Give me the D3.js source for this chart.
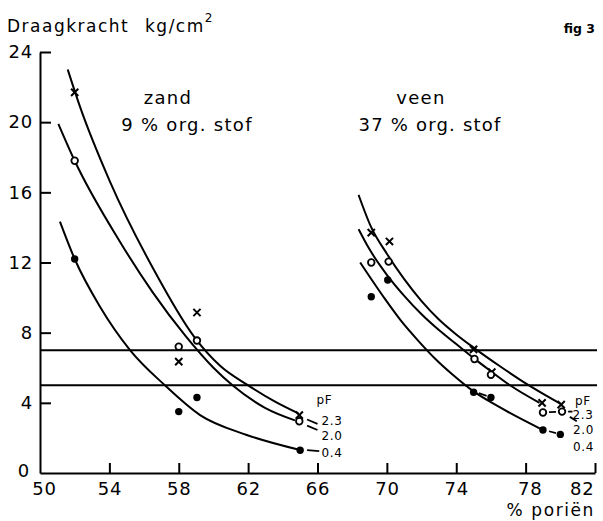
<!DOCTYPE html>
<html><head><meta charset="utf-8">
<script src="https://cdn.jsdelivr.net/npm/d3@7"></script>
<style>
html,body{margin:0;padding:0;background:#fff;}
text{font-family:"DejaVu Sans",sans-serif;fill:#000;}
</style>
</head><body>
<svg id="chart" width="603" height="521"></svg>
<script>
// ---- data ----
const xTicks = [50, 54, 58, 62, 66, 70, 74, 78, 82];
const yTicks = [0, 4, 8, 12, 16, 20, 24];
const refLines = [7, 5];

// measured points, zand (9 % org. stof)
const zandPF23 = [[52, 21.7], [58, 6.35], [59.05, 9.15], [64.95, 3.3]];
const zandPF20 = [[52, 17.8], [58, 7.2], [59.05, 7.55], [64.95, 2.95]];
const zandPF04 = [[52, 12.2], [58, 3.5], [59.05, 4.3], [65, 1.3]];
// measured points, veen (37 % org. stof)
const veenPF23 = [[69.1, 13.7], [70.15, 13.2], [75, 7.05], [76.05, 5.75], [78.95, 4.0], [80.05, 3.9]];
const veenPF20 = [[69.1, 12.0], [70.1, 12.05], [75.05, 6.5], [76.0, 5.6], [79.0, 3.45], [80.1, 3.5]];
const veenPF04 = [[69.1, 10.05], [70.05, 11.0], [75, 4.6], [76.0, 4.3], [79.0, 2.45], [80.0, 2.2]];

// fitted curves as drawn
const zandCurve23 = [[51.6, 23.0], [52.3, 20.9], [54.04, 16.6], [56.5, 11.7], [58.9, 7.75], [60.4, 6.1], [62.0, 5.0], [63.5, 4.1], [64.9, 3.4]];
const zandCurve20 = [[51.06, 19.9], [52.0, 17.8], [54.6, 13.2], [56.5, 10.3], [58.4, 7.8], [60.0, 6.0], [61.1, 5.0], [63.0, 3.7], [64.7, 3.0]];
const zandCurve04 = [[51.15, 14.33], [52, 12.2], [53.46, 9.48], [55.19, 7.01], [57.2, 5.0], [59.23, 3.3], [61.92, 2.17], [65, 1.31]];
const veenCurve23 = [[68.37, 15.85], [69.1, 14.0], [70.0, 12.5], [71.0, 11.05], [72.0, 9.8], [73.0, 8.75], [74.0, 7.9], [75.0, 7.15], [76.5, 6.1], [78.1, 5.05], [80.0, 3.95]];
const veenCurve20 = [[68.37, 13.9], [69.0, 12.75], [70.0, 11.3], [71.0, 10.1], [72.0, 9.05], [73.0, 8.15], [74.0, 7.35], [75.0, 6.55], [76.0, 5.8], [77.1, 5.0], [78.8, 4.0]];
const veenCurve04 = [[68.46, 12.0], [69.8, 10.05], [70.8, 8.7], [71.8, 7.55], [72.8, 6.5], [73.8, 5.6], [75.0, 4.65], [76.5, 3.75], [79.0, 2.45]];

// short leader dashes between marks and labels
const leaders = [
  [[65.4, 3.05], [66.0, 2.8]], [[65.4, 2.7], [66.0, 2.45]], [[65.4, 1.3], [66.1, 1.25]],
  [[75.3, 4.55], [75.75, 4.4]], [[79.35, 3.47], [79.75, 3.48]], [[79.35, 2.38], [79.75, 2.28]],
  [[80.45, 3.5], [80.7, 3.5]], [[80.55, 3.2], [80.95, 2.95]]
];
const pfLabels = ["pF", "2.3", "2.0", "0.4"];

// ---- drawing ----
const svg = d3.select("#chart");
const x = d3.scaleLinear().domain([50, 82]).range([40, 595]);
const y = d3.scaleLinear().domain([0, 24]).range([473, 52]);

// axes
const yAxis = d3.axisLeft(y).tickValues(yTicks).tickSize(-11).tickSizeOuter(0).tickPadding(7);
const xAxis = d3.axisBottom(x).tickValues(xTicks).tickSize(-10).tickSizeOuter(0).tickPadding(9);
const gy = svg.append("g").attr("transform", "translate(40,0)").call(yAxis);
const gx = svg.append("g").attr("transform", "translate(0,473)").call(xAxis);
[gy, gx].forEach(g => {
  g.select(".domain").attr("stroke", "#000").attr("stroke-width", 2);
  g.selectAll(".tick line").attr("stroke", "#000").attr("stroke-width", 2);
  g.selectAll(".tick text").attr("font-family", "DejaVu Sans, sans-serif").attr("font-size", 18)
    .attr("letter-spacing", 0.8).attr("fill", "#000");
});
gx.selectAll(".tick line").filter(d => d === 50).remove();
gy.selectAll(".tick line").filter(d => d === 0).remove();
gx.selectAll(".tick text").filter(d => d === 82).attr("text-anchor", "end").attr("x", -1);
gx.selectAll(".tick text").filter(d => d === 78).attr("x", 4);
gx.selectAll(".tick text").filter(d => d === 50).attr("x", 4);
gy.selectAll(".tick text").filter(d => d === 0).attr("x", -10).attr("dy", "0.2em");

// reference lines
svg.selectAll("line.ref").data(refLines).join("line").attr("class", "ref")
  .attr("x1", x(50)).attr("x2", 597).attr("y1", d => y(d)).attr("y2", d => y(d))
  .attr("stroke", "#000").attr("stroke-width", 2);

// curves
const line = d3.line().x(d => x(d[0])).y(d => y(d[1])).curve(d3.curveMonotoneX);
[zandCurve23, zandCurve20, zandCurve04, veenCurve23, veenCurve20, veenCurve04].forEach(c => {
  svg.append("path").attr("d", line(c)).attr("fill", "none").attr("stroke", "#000").attr("stroke-width", 2);
});

// leaders
svg.selectAll("line.leader").data(leaders).join("line").attr("class", "leader")
  .attr("x1", d => x(d[0][0])).attr("y1", d => y(d[0][1]))
  .attr("x2", d => x(d[1][0])).attr("y2", d => y(d[1][1]))
  .attr("stroke", "#000").attr("stroke-width", 1.8);

// markers
function crosses(data) {
  const g = svg.append("g");
  data.forEach(d => {
    const cx = x(d[0]), cy = y(d[1]), s = 3.6;
    g.append("path").attr("d", `M${cx - s},${cy - s}L${cx + s},${cy + s}M${cx - s},${cy + s}L${cx + s},${cy - s}`)
      .attr("stroke", "#000").attr("stroke-width", 2);
  });
}
function rings(data) {
  svg.append("g").selectAll("circle").data(data).join("circle")
    .attr("cx", d => x(d[0])).attr("cy", d => y(d[1])).attr("r", 3.3)
    .attr("fill", "#fff").attr("stroke", "#000").attr("stroke-width", 1.8);
}
function dots(data) {
  svg.append("g").selectAll("circle").data(data).join("circle")
    .attr("cx", d => x(d[0])).attr("cy", d => y(d[1])).attr("r", 3.7).attr("fill", "#000");
}
crosses(zandPF23); rings(zandPF20); dots(zandPF04);
crosses(veenPF23); rings(veenPF20); dots(veenPF04);

// pF labels
const zandLab = [[316.5, 404], [321.5, 425], [321.5, 439.5], [321.5, 457]];
const veenLab = [[575, 404.5], [572.5, 418.5], [573, 433.5], [573, 450.5]];
[zandLab, veenLab].forEach(pos => {
  svg.append("g").selectAll("text").data(pfLabels).join("text")
    .attr("x", (d, i) => pos[i][0]).attr("y", (d, i) => pos[i][1])
    .attr("font-size", 12).attr("letter-spacing", 0.6).text(d => d);
});

// titles
const t = svg.append("text").attr("x", 7).attr("y", 32).attr("font-size", 17).attr("letter-spacing", 1.5);
t.append("tspan").text("Draagkracht");
t.append("tspan").attr("x", 145).text("kg/cm");
t.append("tspan").attr("font-size", 12).attr("dy", -10).attr("letter-spacing", 0).text("2");
svg.append("text").attr("x", 595).attr("y", 33).attr("text-anchor", "end").attr("font-size", 12.5).attr("font-weight", "bold").text("fig 3");
svg.append("text").attr("x", 168).attr("y", 104).attr("text-anchor", "middle").attr("font-size", 18).attr("letter-spacing", 1.3).text("zand");
svg.append("text").attr("x", 187).attr("y", 131).attr("text-anchor", "middle").attr("font-size", 18).attr("letter-spacing", 1.3).text("9 % org. stof");
svg.append("text").attr("x", 421).attr("y", 104).attr("text-anchor", "middle").attr("font-size", 18).attr("letter-spacing", 1.3).text("veen");
svg.append("text").attr("x", 430).attr("y", 131).attr("text-anchor", "middle").attr("font-size", 18).attr("letter-spacing", 1.2).text("37 % org. stof");
svg.append("text").attr("x", 595).attr("y", 516).attr("text-anchor", "end").attr("font-size", 17).attr("letter-spacing", 1.6).text("% poriën");
</script>
</body></html>
